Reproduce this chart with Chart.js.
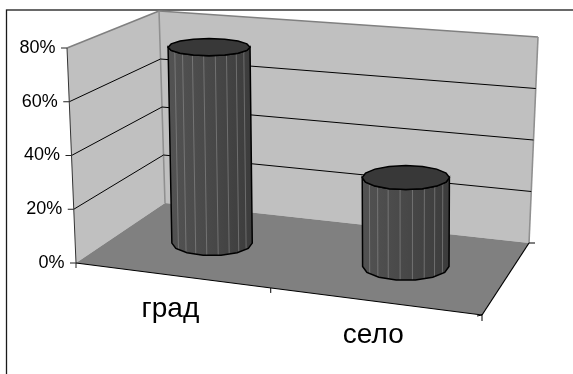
<!DOCTYPE html>
<html><head><meta charset="utf-8">
<style>html,body{margin:0;padding:0;background:#fff}#w{width:573px;height:374px;position:relative}</style>
<script src="https://cdn.jsdelivr.net/npm/chart.js@4"></script></head>
<body><div id="w"><canvas id="c" width="573" height="374"></canvas></div>
<script>
const categories = ['град', 'село'];
const shares = [0.75, 0.34];
const axisMax = 0.8;
const axisStep = 0.2;

// corners of the 3D box (view geometry only)
const FL = {x:76,y:263}, FR = {x:482,y:315}, BL = {x:165,y:203}, BR = {x:529,y:243};
const FLT = {x:67,y:48}, BLT = {x:159,y:11}, BRT = {x:538,y:37};
const lerp = (a,b,t)=>({x:a.x+(b.x-a.x)*t, y:a.y+(b.y-a.y)*t});
const warp = u=>Math.pow(u,1.06);
function floor(u,d){const w=warp(u);return lerp(lerp(FL,FR,w),lerp(BL,BR,w),d);}
function poly(ctx,pts,fill,stroke,lw){ctx.beginPath();pts.forEach((p,i)=>i?ctx.lineTo(p.x,p.y):ctx.moveTo(p.x,p.y));ctx.closePath();
  if(fill){ctx.fillStyle=fill;ctx.fill();} if(stroke){ctx.strokeStyle=stroke;ctx.lineWidth=lw;ctx.stroke();}}
function seg(ctx,a,b,col,lw){ctx.beginPath();ctx.moveTo(a.x,a.y);ctx.lineTo(b.x,b.y);ctx.strokeStyle=col;ctx.lineWidth=lw;ctx.stroke();}

const box3d = {
  id:'box3d',
  afterLayout(chart){
    const ys=chart.scales.y, xs=chart.scales.x, a=chart.chartArea;
    ys.getLabelItems(a).forEach((it,i)=>{
      const t=(a.bottom-ys.getPixelForTick(i))/(a.bottom-a.top);
      const p=lerp(FL,FLT,t);
      it.options.translation=[p.x-11.5,ys.getPixelForTick(i)];
      it.options.textAlign='right';
    });
    xs.getLabelItems(a).forEach((it,i)=>{
      const u=(xs.getPixelForTick(i)-a.left)/(a.right-a.left);
      const p=floor(u,0);
      it.options.translation=[p.x+[1,-2][i],p.y+42];
      it.options.textAlign='center';it.options.textBaseline='alphabetic';it.textOffset=0;
    });
  },
  beforeDraw(chart){
    const c=chart.ctx, ys=chart.scales.y, xs=chart.scales.x, a=chart.chartArea;
    c.save();
    c.strokeStyle='#1a1a1a';c.lineWidth=1.3;c.strokeRect(6.5,10,640,420);
    // walls
    poly(c,[FL,BL,BLT,FLT],'#c0c0c0');
    poly(c,[BL,BR,BRT,BLT],'#c0c0c0');
    seg(c,BLT,FLT,'#808080',1.6);
    seg(c,BLT,BRT,'#808080',1.6);
    seg(c,BLT,BL,'#909090',1.6);
    seg(c,BRT,BR,'#909090',1.6);
    // floor
    poly(c,[FL,FR,BR,BL],'#808080');
    // gridlines and value ticks
    ys.ticks.forEach((tk,i)=>{
      const y=ys.getPixelForTick(i), t=(a.bottom-y)/(a.bottom-a.top);
      const f=lerp(FL,FLT,t), bk=lerp(BL,BLT,t), r=lerp(BR,BRT,t);
      if(t>0&&t<0.99){seg(c,f,bk,'#000',1);seg(c,bk,r,'#000',1);}
      seg(c,{x:f.x-6,y:f.y},f,'#222',1);
    });
    seg(c,FL,FLT,'#333',1);
    seg(c,FL,{x:FL.x,y:FL.y+5},'#222',1);
    // floor edges and category ticks
    seg(c,FL,FR,'#000',1.2);
    seg(c,FR,BR,'#000',1.2);
    seg(c,BR,{x:BR.x+6,y:BR.y},'#000',1);
    const m=floor(0.5,0);
    seg(c,m,{x:m.x,y:m.y+5},'#000',1);
    seg(c,{x:FR.x,y:FR.y-1},{x:FR.x,y:FR.y+6},'#000',1);
    seg(c,{x:FR.x-5,y:FR.y+1},FR,'#000',1);
    c.restore();
  },
  afterDatasetsDraw(chart){
    const c=chart.ctx, a=chart.chartArea;
    chart.getDatasetMeta(0).data.forEach((bar,i)=>{
      const u=(bar.x-a.left)/(a.right-a.left);
      const b=floor(u,0.5);
      b.y-=0.5; b.x+=[3,1.5][i];
      const grow=1+0.075*(u-0.25)/0.5;
      const rx=bar.width/2*grow;
      const h=(bar.base-bar.y)*0.972;
      const top={x:b.x+(b.x-405)*0.00008*h,y:b.y-h};
      const rt=rx*(1+h*0.0001);
      const ratio=y=>0.21+0.0005*(y-47);
      const ryT=rt*ratio(top.y), ryB=rx*ratio(b.y);
      const ell=(o,r,ry,n,ph)=>{const p=[];for(let k=0;k<n;k++){const th=ph+k*2*Math.PI/n;p.push({x:o.x+r*Math.cos(th),y:o.y+ry*Math.sin(th)});}return p;};
      // body
      const lower=ell(b,rx,ryB,14,0).filter(p=>p.y>=b.y-0.01).sort((p,q)=>q.x-p.x);
      const upper=ell(top,rt,ryT,16,0).filter(p=>p.y>=top.y-0.01).sort((p,q)=>p.x-q.x);
      const g=c.createLinearGradient(b.x-rx,0,b.x+rx,0);
      g.addColorStop(0,'#525252');g.addColorStop(0.5,'#484848');g.addColorStop(1,'#3c3c3c');
      poly(c,[...upper,...lower],g);
      // facet lines
      for(let k=1;k<=8;k++){
        const th=Math.PI*(0.094+k*0.091);
        const cs=-Math.cos(th), sn=Math.sin(th);
        seg(c,{x:top.x+rt*cs,y:top.y+ryT*sn},{x:b.x+rx*cs,y:b.y+ryB*sn},'rgba(160,160,160,0.6)',0.8);
      }
      poly(c,[...upper,...lower],null,'#000',1.5);
      // top cap
      poly(c,ell(top,rt,ryT,16,0),'#383838','#000',1.5);
    });
  }
};

new Chart(document.getElementById('c'),{
  type:'bar',
  data:{labels:categories,datasets:[{data:shares,backgroundColor:'rgba(0,0,0,0)',borderWidth:0,barPercentage:0.66,categoryPercentage:0.6}]},
  plugins:[box3d],
  options:{
    responsive:false,animation:false,
    layout:{padding:{left:0,right:91,top:48,bottom:0}},
    plugins:{legend:{display:false},title:{display:false},tooltip:{enabled:false}},
    scales:{
      x:{grid:{display:false},border:{display:false},
         ticks:{color:'#000',padding:0,maxRotation:0,font:{family:'"Liberation Sans"',size:28}},
         afterFit(s){s.height=111;}},
      y:{min:0,max:axisMax,grid:{display:false},border:{display:false},
         ticks:{stepSize:axisStep,color:'#000',padding:0,font:{family:'"Liberation Sans"',size:18},
                callback:v=>Math.round(v*100)+'%'},
         afterFit(s){s.width=76;}}
    }
  }
});
</script></body></html>
